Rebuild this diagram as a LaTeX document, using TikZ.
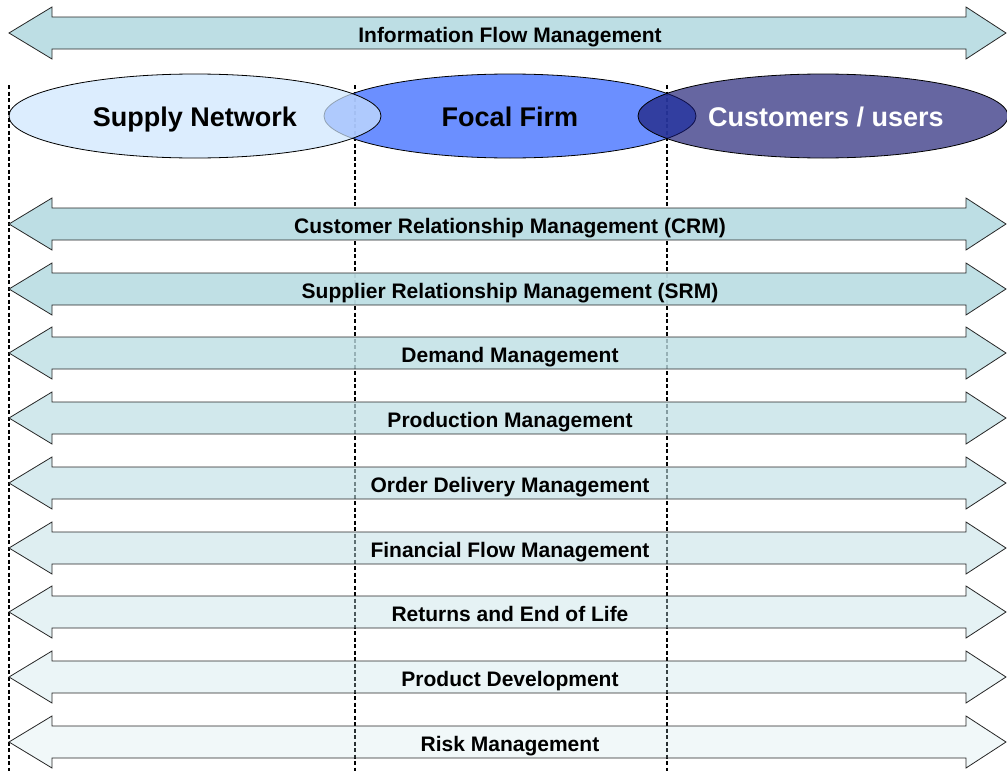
\documentclass[tikz,border=0pt]{standalone}
\usepackage{fontspec}
\setmainfont{Liberation Sans}
\definecolor{flowfill}{RGB}{189,222,228}
\definecolor{supplyfill}{RGB}{205,229,253}
\definecolor{focalfill}{RGB}{81,123,255}
\definecolor{custfill}{RGB}{20,20,110}
\tikzset{
  flow/.style={draw=black!85, line width=0.8pt, fill=flowfill, line join=miter},
  lbl/.style={font=\fontsize{21}{25}\selectfont\bfseries, inner sep=0pt, anchor=base},
  big/.style={font=\fontsize{27}{32}\selectfont\bfseries, inner sep=0pt, anchor=base},
  divider/.style={line width=2pt, dash pattern=on 4pt off 2.5pt},
  party/.style={draw=black, line width=0.8pt}
}
\begin{document}
\begin{tikzpicture}[x=1pt, y=-1pt]
  \useasboundingbox (0,0) rectangle (1007,771);

  % dividers
  \draw[divider] (9,85) -- (9,771);
  \draw[divider] (355,85) -- (355,771);
  \draw[divider] (667,85) -- (667,771);

  % the three parties
  \draw[party, fill=focalfill, fill opacity=0.85] (510,116) ellipse (186 and 42);
  \draw[party, fill=custfill, fill opacity=0.65] (823,116) ellipse (185 and 42);
  \draw[party, fill=supplyfill, fill opacity=0.7] (195,116) ellipse (186 and 42);
  \node[big] (supply) at (195,126) {Supply Network};
  \node[big] (focal) at (510,126) {Focal Firm};
  \node[big, text=white] (cust) at (826,126) {Customers / users};

  % information flow on top
  \draw[flow] (9,33) -- (52,7) -- (52,17) -- (966,17) -- (966,7) -- (1006,33)
    -- (966,59) -- (966,49) -- (52,49) -- (52,59) -- cycle;
  \node[lbl] (info) at (510,42) {Information Flow Management};

  % processes
  \foreach \yy/\op/\txt [count=\i] in {
      224/1/{Customer Relationship Management (CRM)},
      289/0.95/{Supplier Relationship Management (SRM)},
      353/0.8/{Demand Management},
      418/0.7/{Production Management},
      483/0.6/{Order Delivery Management},
      548/0.5/{Financial Flow Management},
      612/0.4/{Returns and End of Life},
      677/0.3/{Product Development},
      742/0.22/{Risk Management}} {
    \draw[flow, fill opacity=\op] (9,\yy) -- (52,\yy-26) -- (52,\yy-16) -- (966,\yy-16)
      -- (966,\yy-26) -- (1006,\yy) -- (966,\yy+26) -- (966,\yy+16) -- (52,\yy+16)
      -- (52,\yy+26) -- cycle;
    \node[lbl] (proc\i) at (510,\yy+9) {\txt};
  }
\end{tikzpicture}
\end{document}
